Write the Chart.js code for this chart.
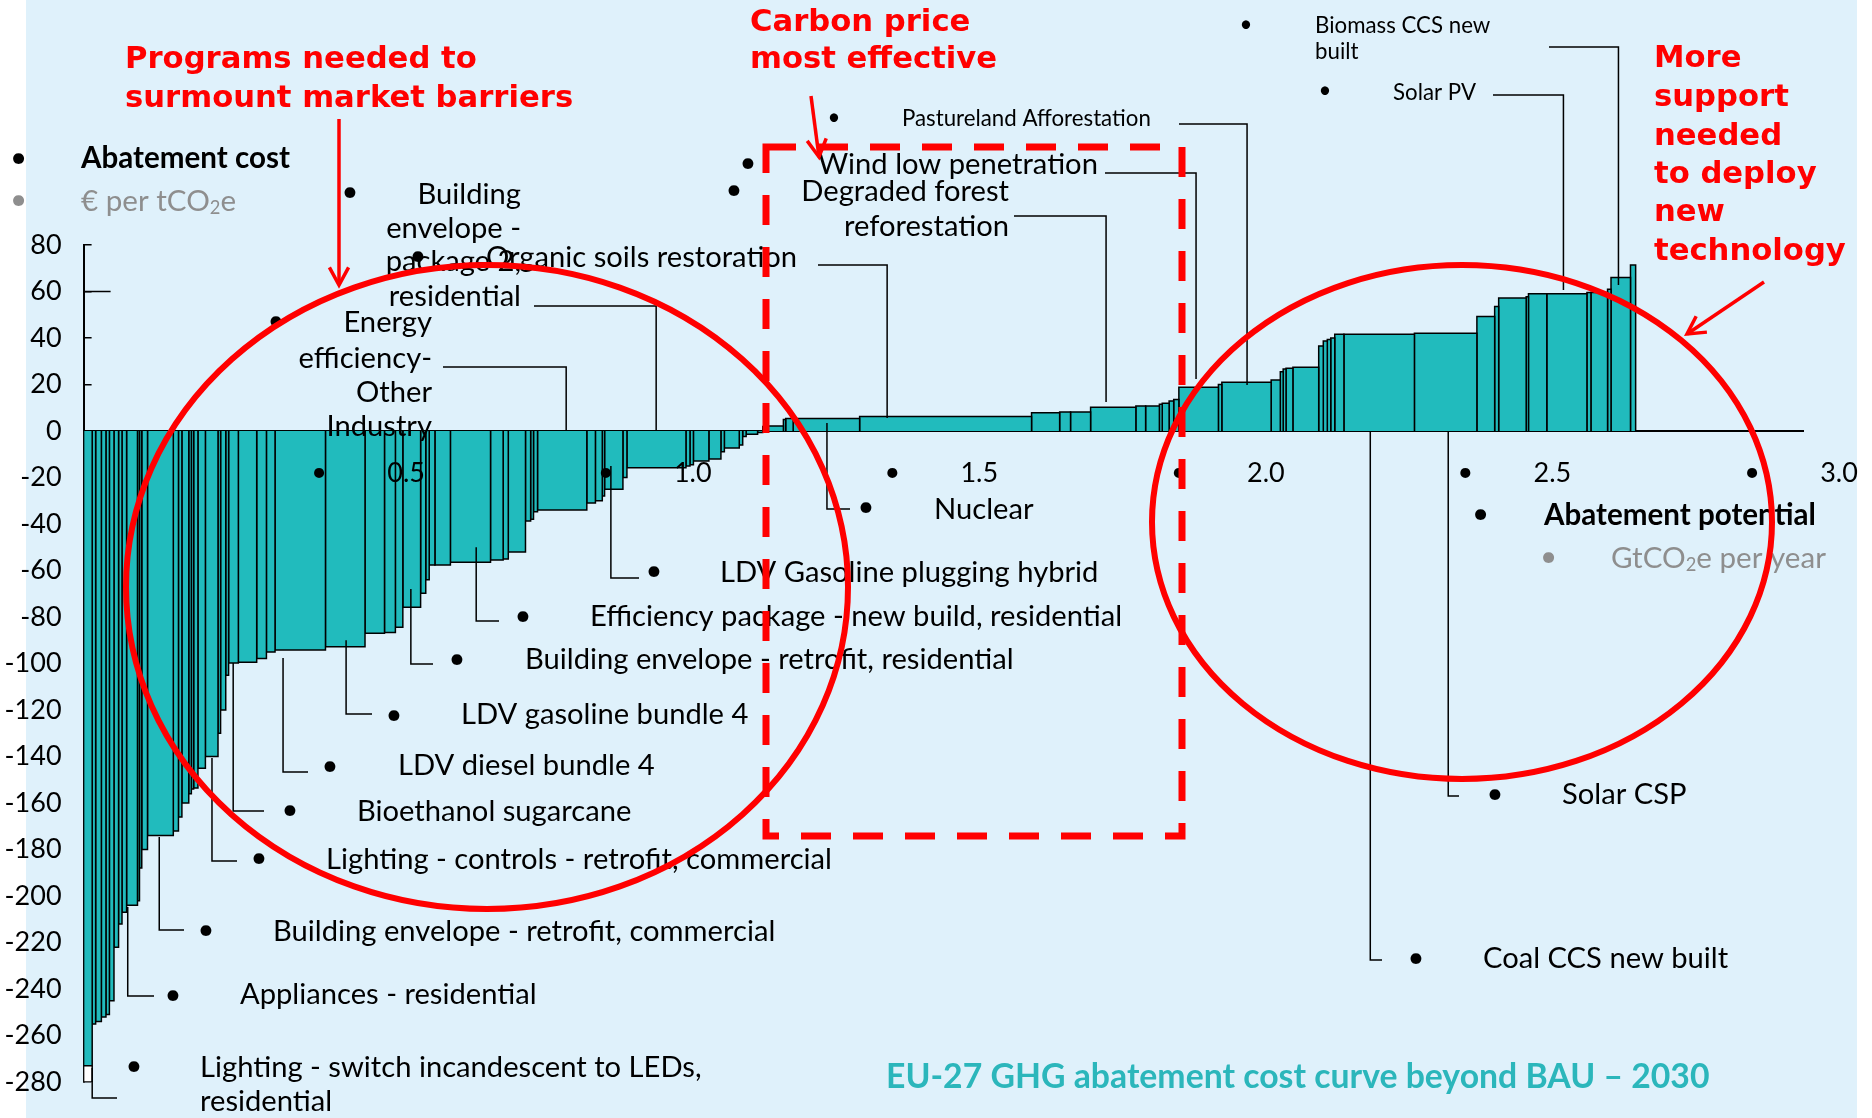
<!DOCTYPE html>
<html>
<head>
<meta charset="utf-8">
<title>EU-27 GHG abatement cost curve beyond BAU – 2030</title>
<script src="https://cdn.jsdelivr.net/npm/chart.js@4.4.1/dist/chart.umd.min.js"></script>
<style>
  html, body { margin: 0; padding: 0; background: #fff; }
  canvas { display: block; }
</style>
</head>
<body>
<canvas id="macc" width="1872" height="1118"></canvas>
<script>
// abatement potential of each lever, GtCO2e per year, cheapest first
const widths = [
  0.015, 0.006, 0.010, 0.008, 0.006, 0.008, 0.008, 0.006, 0.008, 0.019,
  0.0035, 0.004, 0.010, 0.045, 0.009, 0.006, 0.012, 0.0045, 0.004, 0.0075,
  0.013, 0.022, 0.0045, 0.009, 0.005, 0.017, 0.032, 0.017, 0.015, 0.088,
  0.069, 0.034, 0.019, 0.013, 0.031, 0.009, 0.006, 0.010, 0.027, 0.070,
  0.022, 0.009, 0.030, 0.009, 0.005, 0.007, 0.086, 0.015, 0.012, 0.004,
  0.032, 0.007, 0.103, 0.007, 0.006, 0.027, 0.021, 0.006, 0.026, 0.006,
  0.006, 0.020, 0.009, 0.005, 0.031, 0.004, 0.013, 0.116, 0.300, 0.049,
  0.019, 0.035, 0.079, 0.017, 0.024, 0.005, 0.012, 0.008, 0.009, 0.069,
  0.006, 0.086, 0.016, 0.005, 0.005, 0.012, 0.045, 0.008, 0.007, 0.006,
  0.007, 0.016, 0.123, 0.109, 0.031, 0.007, 0.048, 0.004, 0.032, 0.070,
  0.007, 0.029, 0.006, 0.034, 0.009
];
// abatement cost of each lever, EUR per tCO2e
const costs = [
  -273, -255, -254, -252, -251, -245, -222, -212, -207, -204,
  -202, -188, -180, -174, -172, -166, -160, -156, -154, -153.5,
  -145, -140, -130, -120, -105, -99.8, -99.5, -97.8, -95, -94.2,
  -92.8, -87, -86.7, -84.4, -75.8, -69.8, -64, -57.6, -57.6, -56.5,
  -55.5, -55, -52, -38.7, -38, -34.7, -34, -31, -30, -28,
  -25, -20, -15.8, -15, -14.5, -12.9, -12, -8.9, -7.3, -6,
  -2.4, -1.4, -0.6, 1.9, 2.2, 5, 5.4, 5.4, 6.2, 7.9,
  8.2, 8.2, 10.2, 10.8, 10.8, 11.5, 11.9, 12.9, 13.6, 18.8,
  20, 21, 21.9, 25.5, 26.7, 27, 27.4, 36.6, 38.7, 39.4,
  40, 41.6, 41.6, 42, 49.2, 53.5, 57.2, 57.7, 59, 59,
  59.6, 59.6, 61, 66, 71.4
];
// white tail under the first lever
const firstLeverFloor = -280;
const costMin = -280, costMax = 80, costStep = 20;
const potMax = 3.0, potStep = 0.5;

const teal = '#21bbbd';
const bgBlue = '#dff1fb';
const red = '#ff0000';

// lever labels: text lines, position (px), bullet (px), leader [potential, cost, elbow y px, start x px]
const labels = [
  { text: ['Building', 'envelope -', 'package 2,', 'residential'], x: 521, y: [195, 229, 262, 297], align: 'right', b: [350, 192], lead: [0.999, 0, 306, 534] },
  { text: ['Organic soils restoration'], x: 486, y: [258], b: [418, 256], lead: [1.402, 5.6, 265, 818] },
  { text: ['Energy', 'efficiency-', 'Other', 'Industry'], x: 432, y: [323, 359, 393, 427], align: 'right', b: [276, 321], lead: [0.842, 0, 367, 443] },
  { text: ['Wind low penetration'], x: 818, y: [165], b: [748, 163], lead: [1.941, 22.4, 173, 1105] },
  { text: ['Degraded forest', 'reforestation'], x: 1009, y: [192, 227], align: 'right', b: [734, 190], lead: [1.784, 12.5, 216, 1014] },
  { text: ['Pastureland Afforestation'], x: 902, y: [119], small: true, b: [834, 118], lead: [2.030, 19.8, 124, 1179] },
  { text: ['Solar PV'], x: 1393, y: [93], small: true, b: [1325, 91], lead: [2.582, 60.6, 95, 1493] },
  { text: ['Biomass CCS new', 'built'], x: 1315, y: [26, 52], small: true, b: [1246, 25], lead: [2.678, 62.8, 47, 1549] },
  { text: ['LDV Gasoline plugging hybrid'], x: 720, y: [573], b: [654, 571], lead: [0.920, -15, 578, 639] },
  { text: ['Efficiency package - new build, residential'], x: 590, y: [617], b: [523, 616], lead: [0.685, -50, 621, 499] },
  { text: ['Building envelope - retrofit, residential'], x: 525, y: [660], b: [457, 659], lead: [0.571, -68, 664, 433] },
  { text: ['LDV gasoline bundle 4'], x: 461, y: [715], b: [394, 715], lead: [0.458, -90, 714, 372] },
  { text: ['LDV diesel bundle 4'], x: 398, y: [766], b: [330, 766], lead: [0.348, -97.6, 772, 308] },
  { text: ['Bioethanol sugarcane'], x: 357, y: [812], b: [290, 810], lead: [0.261, -99.8, 811, 264] },
  { text: ['Lighting - controls - retrofit, commercial'], x: 326, y: [860], b: [259, 858], lead: [0.224, -140.6, 861, 237] },
  { text: ['Building envelope - retrofit, commercial'], x: 273, y: [932], b: [206, 930], lead: [0.132, -174.6, 930, 184] },
  { text: ['Appliances - residential'], x: 240, y: [995], b: [173, 995], lead: [0.077, -204.7, 996, 154] },
  { text: ['Lighting - switch incandescent to LEDs,', 'residential'], x: 200, y: [1068, 1102], b: [134, 1066], lead: [0.015, -274, 1098, 117] },
  { text: ['Nuclear'], x: 934, y: [510], b: [866, 507], lead: [1.297, 3.4, 509, 850] },
  { text: ['Solar CSP'], x: 1562, y: [795], b: [1495, 794], lead: [2.381, 0, 796, 1459] },
  { text: ['Coal CCS new built'], x: 1483, y: [959], b: [1416, 958], lead: [2.245, 0, 960, 1382] }
];

const redNotes = [
  { text: ['Programs needed to', 'surmount market barriers'], x: 125, y: [60, 99] },
  { text: ['Carbon price', 'most effective'], x: 750, y: [23, 60] },
  { text: ['More', 'support', 'needed', 'to deploy', 'new', 'technology'], x: 1654, y: [59, 98, 137, 175, 213, 252] }
];
const redArrows = [[339, 119, 339, 285], [811, 96, 819, 157], [1764, 282, 1687, 334]];
const redEllipses = [[487, 587, 361, 322], [1462, 522, 310, 257]];
const redBox = [766, 147, 1182, 836];

function fitSize(ctx, text, weight, family, target) {
  ctx.font = weight + ' 100px ' + family;
  return 100 * target / ctx.measureText(text).width;
}

function polyline(ctx, pts) {
  ctx.beginPath();
  ctx.moveTo(pts[0][0], pts[0][1]);
  for (let i = 1; i < pts.length; i++) ctx.lineTo(pts[i][0], pts[i][1]);
  ctx.stroke();
}

function arrow(ctx, x1, y1, x2, y2) {
  const a = Math.atan2(y2 - y1, x2 - x1);
  const h = 20;
  polyline(ctx, [[x1, y1], [x2, y2]]);
  polyline(ctx, [
    [x2 - h * Math.cos(a - 0.5), y2 - h * Math.sin(a - 0.5)],
    [x2, y2],
    [x2 - h * Math.cos(a + 0.5), y2 - h * Math.sin(a + 0.5)]
  ]);
}

// text with a subscript run, e.g. tCO2e
function runs(ctx, parts, x, y, size, weight) {
  let cx = x;
  parts.forEach(p => {
    const sub = Array.isArray(p);
    const t = sub ? p[0] : p;
    const s = sub ? size * 0.62 : size;
    ctx.font = weight + ' ' + s + 'px Lato';
    ctx.fillText(t, cx, sub ? y + size * 0.25 : y);
    cx += ctx.measureText(t).width;
  });
}

const decor = {
  id: 'decor',
  beforeDraw(chart) {
    const ctx = chart.ctx;
    ctx.save();
    ctx.fillStyle = bgBlue;
    ctx.fillRect(26, 0, 1831, chart.height);
    ctx.restore();
  },
  afterDraw(chart) {
    const ctx = chart.ctx;
    const xs = chart.scales.x, ys = chart.scales.y;
    const L = fitSize(ctx, 'Wind low penetration', 'normal', 'Lato', 280);
    const S = fitSize(ctx, 'Pastureland Afforestation', 'normal', 'Lato', 249);
    const B = fitSize(ctx, 'Abatement cost', 'bold', 'Lato', 209);
    const T = fitSize(ctx, 'EU-27 GHG abatement cost curve beyond BAU – 2030', 'bold', 'Lato', 824);
    const R = fitSize(ctx, 'Programs needed to', 'bold', '"DejaVu Sans"', 352);

    ctx.save();
    ctx.strokeStyle = '#000';
    ctx.lineWidth = 1.5;
    // stray long tick at 60
    const y60 = ys.getPixelForValue(60);
    polyline(ctx, [[xs.left, y60], [xs.left + 27, y60]]);

    // leader lines
    labels.forEach(lb => {
      const [pot, cost, ey, hx] = lb.lead;
      const px = xs.getPixelForValue(pot), py = ys.getPixelForValue(cost);
      polyline(ctx, [[hx, ey], [px, ey], [px, py]]);
    });

    // lever labels
    ctx.fillStyle = '#000';
    ctx.textBaseline = 'middle';
    labels.forEach(lb => {
      const size = lb.small ? S : L;
      ctx.font = size + 'px Lato';
      ctx.textAlign = lb.align || 'left';
      lb.text.forEach((t, i) => ctx.fillText(t, lb.x, lb.y[i]));
      ctx.textAlign = 'center';
      ctx.fillText('•', lb.b[0], lb.b[1]);
    });

    // bullets in front of the potential tick labels
    ctx.font = '27px Lato';
    const y0 = ys.getPixelForValue(0);
    xs.ticks.forEach(t => {
      if (t.value > 0) ctx.fillText('•', xs.getPixelForValue(t.value) - 51, y0 + 41);
    });

    // axis captions
    ctx.textAlign = 'left';
    ctx.font = B + 'px Lato';
    ctx.fillText('•', 10, 157);
    ctx.fillText('•', 1472, 513);
    ctx.font = 'bold ' + B + 'px Lato';
    ctx.fillText('Abatement cost', 81, 158);
    ctx.fillText('Abatement potential', 1544, 515);
    ctx.fillStyle = '#8e8e8e';
    ctx.font = B + 'px Lato';
    ctx.fillText('•', 10, 199);
    ctx.fillText('•', 1540, 556);
    runs(ctx, ['€ per tCO', ['2'], 'e'], 81, 201, B, 'normal');
    runs(ctx, ['GtCO', ['2'], 'e per year'], 1611, 558, B, 'normal');

    // title
    ctx.fillStyle = '#2bb6bb';
    ctx.font = 'bold ' + T + 'px Lato';
    ctx.fillText('EU-27 GHG abatement cost curve beyond BAU – 2030', 886, 1077);

    // red call-outs
    ctx.strokeStyle = red;
    ctx.fillStyle = red;
    ctx.font = 'bold ' + R + 'px "DejaVu Sans"';
    redNotes.forEach(n => n.text.forEach((t, i) => ctx.fillText(t, n.x, n.y[i])));
    ctx.lineWidth = 6;
    redEllipses.forEach(([cx, cy, rx, ry]) => {
      ctx.beginPath();
      ctx.ellipse(cx, cy, rx, ry, 0, 0, Math.PI * 2);
      ctx.stroke();
    });
    ctx.lineWidth = 7;
    ctx.setLineDash([30, 22]);
    ctx.strokeRect(redBox[0], redBox[1], redBox[2] - redBox[0], redBox[3] - redBox[1]);
    ctx.setLineDash([]);
    ctx.lineWidth = 3.5;
    redArrows.forEach(a => arrow(ctx, a[0], a[1], a[2], a[3]));
    ctx.restore();
  }
};

// one closed block per lever, placed side by side along the potential axis
let cum = 0;
const datasets = widths.map((w, i) => {
  const x0 = cum;
  cum += w;
  return {
    data: [{ x: x0, y: 0 }, { x: x0, y: costs[i] }, { x: cum, y: costs[i] }, { x: cum, y: 0 }],
    fill: 'origin',
    backgroundColor: teal,
    borderColor: '#000',
    borderWidth: 1.5
  };
});
datasets.push({
  data: [{ x: 0, y: costs[0] }, { x: 0, y: firstLeverFloor }, { x: widths[0], y: firstLeverFloor }, { x: widths[0], y: costs[0] }],
  fill: { value: costs[0] },
  backgroundColor: '#ffffff',
  borderColor: '#000',
  borderWidth: 1.5
});

new Chart(document.getElementById('macc'), {
  type: 'line',
  data: { datasets },
  options: {
    responsive: false,
    animation: false,
    devicePixelRatio: 1,
    events: [],
    layout: { padding: { left: 0, top: 245, right: 69, bottom: 36 } },
    elements: { point: { radius: 0 }, line: { tension: 0 } },
    plugins: { legend: { display: false }, tooltip: { enabled: false } },
    scales: {
      x: {
        type: 'linear',
        position: { y: 0 },
        min: 0,
        max: potMax,
        afterFit: s => { s.height = 0; s.paddingLeft = 0; s.paddingRight = 0; },
        grid: { display: false, drawTicks: false },
        border: { color: '#000', width: 2 },
        ticks: {
          z: 1,
          stepSize: potStep,
          autoSkip: false,
          maxRotation: 0,
          padding: 26,
          labelOffset: 36,
          color: '#000',
          font: { family: 'Lato', size: 27 },
          callback: v => v === 0 ? '' : v.toFixed(1)
        }
      },
      y: {
        type: 'linear',
        position: 'left',
        min: costMin,
        max: costMax,
        afterFit: s => { s.width = 83.6; s.paddingTop = 0; s.paddingBottom = 0; },
        grid: { drawOnChartArea: false, drawTicks: true, tickLength: -8, color: '#000', lineWidth: 1.5 },
        border: { color: '#000', width: 2 },
        ticks: {
          stepSize: costStep,
          autoSkip: false,
          padding: 30,
          color: '#000',
          font: { family: 'Lato', size: 27 }
        }
      }
    }
  },
  plugins: [decor]
});
</script>
</body>
</html>
